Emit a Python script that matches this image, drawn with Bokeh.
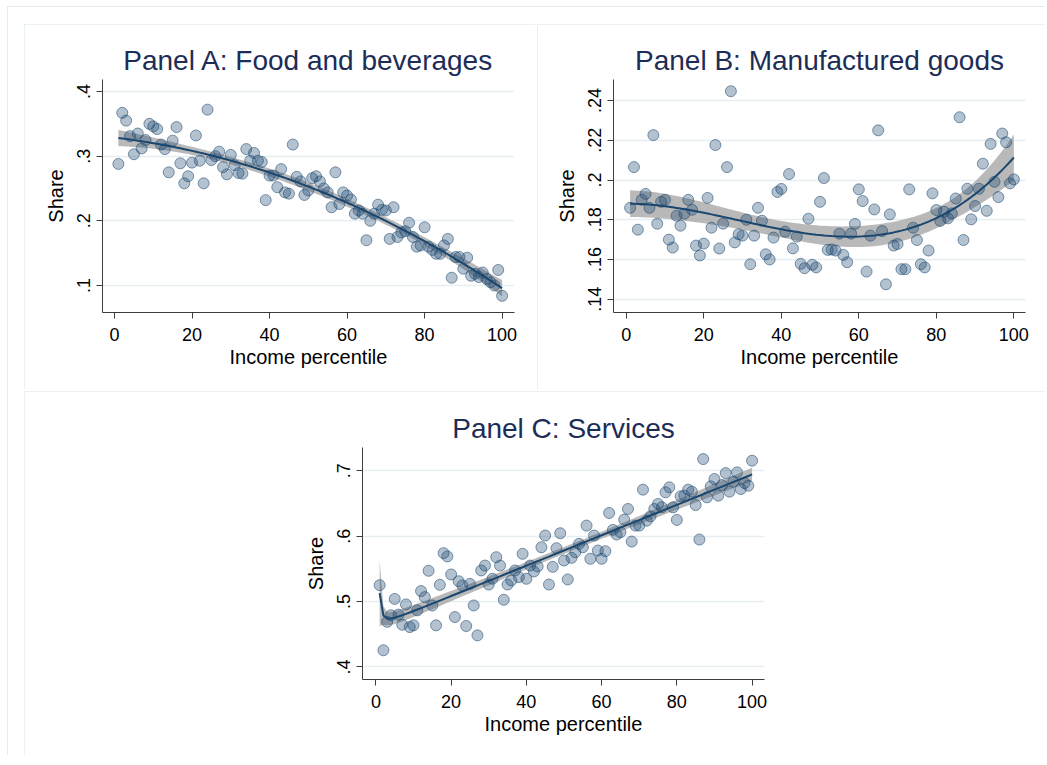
import numpy as np
from bokeh.plotting import figure
from bokeh.layouts import row, column, Spacer
from bokeh.models import FixedTicker, Range1d
from bokeh.embed import file_html
from bokeh.resources import INLINE

# ---------------- data ----------------
percentile = list(range(1, 101))

food = [0.288, 0.367, 0.355, 0.331, 0.303, 0.335, 0.312, 0.325, 0.350, 0.346,
        0.342, 0.318, 0.311, 0.275, 0.324, 0.345, 0.289, 0.258, 0.269, 0.290,
        0.332, 0.293, 0.258, 0.372, 0.294, 0.300, 0.307, 0.283, 0.272, 0.302,
        0.286, 0.274, 0.273, 0.311, 0.293, 0.305, 0.293, 0.291, 0.232, 0.270,
        0.270, 0.252, 0.280, 0.244, 0.242, 0.318, 0.268, 0.261, 0.240, 0.247,
        0.266, 0.269, 0.261, 0.250, 0.244, 0.221, 0.275, 0.226, 0.244, 0.239,
        0.233, 0.211, 0.216, 0.211, 0.170, 0.200, 0.211, 0.225, 0.217, 0.216,
        0.172, 0.221, 0.175, 0.182, 0.184, 0.197, 0.175, 0.160, 0.162, 0.190,
        0.160, 0.155, 0.149, 0.149, 0.162, 0.172, 0.112, 0.144, 0.144, 0.126,
        0.143, 0.115, 0.118, 0.113, 0.120, 0.110, 0.105, 0.100, 0.124, 0.084]

manuf = [0.186, 0.2065, 0.175, 0.190, 0.193, 0.186, 0.2226, 0.178, 0.189, 0.190,
         0.170, 0.166, 0.182, 0.177, 0.183, 0.190, 0.185, 0.167, 0.162, 0.168,
         0.191, 0.176, 0.2176, 0.1655, 0.178, 0.2065, 0.2447, 0.1686, 0.1727, 0.172,
         0.180, 0.1576, 0.172, 0.186, 0.1795, 0.1626, 0.160, 0.171, 0.194, 0.1955,
         0.174, 0.203, 0.1656, 0.1715, 0.1578, 0.1556, 0.1805, 0.1573, 0.156, 0.189,
         0.201, 0.1648, 0.165, 0.1645, 0.173, 0.1623, 0.1586, 0.173, 0.1779, 0.1953,
         0.1894, 0.1539, 0.172, 0.1852, 0.225, 0.1743, 0.1475, 0.1827, 0.167, 0.1678,
         0.1551, 0.1551, 0.1953, 0.176, 0.1698, 0.1576, 0.156, 0.1645, 0.1933, 0.1849,
         0.1794, 0.184, 0.1807, 0.1832, 0.1907, 0.2316, 0.1698, 0.1956, 0.1802, 0.1869,
         0.1956, 0.2082, 0.1845, 0.2182, 0.1991, 0.1914, 0.2234, 0.219, 0.1983, 0.2003]

services = [0.525, 0.4255, 0.469, 0.479, 0.504, 0.480, 0.4646, 0.4956, 0.461, 0.4636,
            0.4865, 0.516, 0.5068, 0.547, 0.494, 0.4636, 0.5256, 0.574, 0.569, 0.5414,
            0.4763, 0.531, 0.5246, 0.4626, 0.527, 0.494, 0.4483, 0.5475, 0.555, 0.526,
            0.5348, 0.5678, 0.555, 0.5027, 0.526, 0.5322, 0.5475, 0.5373, 0.5729, 0.5348,
            0.555, 0.546, 0.5536, 0.583, 0.6009, 0.526, 0.553, 0.5815, 0.6044, 0.5627,
            0.5338, 0.5668, 0.5754, 0.5882, 0.583, 0.6161, 0.5653, 0.6009, 0.578, 0.5653,
            0.577, 0.6354, 0.6095, 0.6024, 0.606, 0.6253, 0.6415, 0.5917, 0.6161, 0.6161,
            0.671, 0.6237, 0.6303, 0.6415, 0.6492, 0.6441, 0.667, 0.6746, 0.6441, 0.6248,
            0.6609, 0.6619, 0.671, 0.668, 0.6476, 0.5948, 0.7178, 0.6593, 0.6761, 0.6873,
            0.6619, 0.6781, 0.6964, 0.668, 0.6832, 0.6975, 0.672, 0.6812, 0.6771, 0.7153]

titles = ["Panel A: Food and beverages", "Panel B: Manufactured goods", "Panel C: Services"]
x_title = "Income percentile"
y_title = "Share"

x_ticks = [0, 20, 40, 60, 80, 100]
x_tick_labels = ["0", "20", "40", "60", "80", "100"]
food_ticks = [0.1, 0.2, 0.3, 0.4]
food_tick_labels = [".1", ".2", ".3", ".4"]
manuf_ticks = [0.14, 0.16, 0.18, 0.2, 0.22, 0.24]
manuf_tick_labels = [".14", ".16", ".18", ".2", ".22", ".24"]
serv_ticks = [0.4, 0.5, 0.6, 0.7]
serv_tick_labels = [".4", ".5", ".6", ".7"]

# ---------------- style ----------------
FONT = "Liberation Sans"
NAVY = "#1a476f"
TITLE_COLOR = "#1c2d57"
GRID = "#e6eef1"
BORDER = "#e3ecee"


def fit_band(x, y, basis, grid):
    x = np.asarray(x, float)
    y = np.asarray(y, float)
    X = np.column_stack([f(x) for f in basis])
    beta, *_ = np.linalg.lstsq(X, y, rcond=None)
    resid = y - X @ beta
    n, k = X.shape
    s2 = resid @ resid / (n - k)
    XtXi = np.linalg.inv(X.T @ X)
    G = np.column_stack([f(grid) for f in basis])
    yhat = G @ beta
    se = np.sqrt(s2 * np.einsum("ij,jk,ik->i", G, XtXi, G))
    t = 1.984
    return yhat, yhat - t * se, yhat + t * se


grid = np.linspace(1, 100, 100)
one = lambda v: np.ones_like(v)
basis_food = [one, lambda v: v / 100.0, lambda v: (v / 100.0) ** 2]
basis_manuf = [one, lambda v: (v / 100.0) ** 2, lambda v: (v / 100.0) ** 3]
basis_serv = [one, lambda v: v ** -2.0, lambda v: v / 100.0]


def make_panel(title, yvals, yticks, ylabels, basis, xr, yr, w, h, bl, br, bt, bb):
    p = figure(width=w, height=h, x_range=Range1d(*xr), y_range=Range1d(*yr),
               output_backend="svg", toolbar_location=None,
               min_border_left=bl, min_border_right=br,
               min_border_top=bt, min_border_bottom=bb)
    p.outline_line_color = None
    p.background_fill_color = "white"
    p.border_fill_color = "white"
    p.styles = {"outline": "1px solid " + BORDER, "outline-offset": "-1px"}

    p.title.text = title
    p.title.align = "center"
    p.title.text_font = FONT
    p.title.text_font_size = "28px"
    p.title.text_font_style = "normal"
    p.title.text_color = TITLE_COLOR
    p.title.standoff = 7

    for ax in (p.xaxis, p.yaxis):
        ax.axis_line_color = "#3c3c3c"
        ax.axis_line_width = 1
        ax.major_tick_line_color = "#3c3c3c"
        ax.major_tick_out = 6
        ax.major_tick_in = 0
        ax.minor_tick_out = 0
        ax.minor_tick_in = 0
        ax.major_label_text_font = FONT
        ax.major_label_text_font_size = "18px"
        ax.major_label_text_color = "black"
        ax.axis_label_text_font = FONT
        ax.axis_label_text_font_size = "20px"
        ax.axis_label_text_font_style = "normal"
        ax.axis_label_text_color = "black"

    p.xaxis.ticker = FixedTicker(ticks=x_ticks)
    p.xaxis.major_label_overrides = dict(zip(x_ticks, x_tick_labels))
    p.xaxis.axis_label = x_title
    p.xaxis.major_label_standoff = 9
    p.xaxis.axis_label_standoff = 2

    p.yaxis.ticker = FixedTicker(ticks=yticks)
    p.yaxis.major_label_overrides = dict(zip(yticks, ylabels))
    p.yaxis.major_label_orientation = "vertical"
    p.yaxis.axis_label = y_title
    p.yaxis.major_label_standoff = 6
    p.yaxis.axis_label_standoff = 8

    p.xgrid.visible = False
    p.ygrid.grid_line_color = GRID
    p.ygrid.grid_line_width = 1.5

    yhat, lo, hi = fit_band(percentile, yvals, basis, grid)
    p.varea(x=grid, y1=lo, y2=hi, fill_color="#a8a8a8", fill_alpha=0.8)
    p.scatter(percentile, yvals, size=11, marker="circle",
              fill_color=NAVY, fill_alpha=0.33,
              line_color=NAVY, line_alpha=0.55, line_width=1)
    p.line(grid, yhat, line_color=NAVY, line_width=2)
    return p


pA = make_panel(titles[0], food, food_ticks, food_tick_labels, basis_food,
                (-3.1, 103.2), (0.0582, 0.4186), 511, 365, 78, 21, 55, 77)
pB = make_panel(titles[1], manuf, manuf_ticks, manuf_tick_labels, basis_manuf,
                (-3.28, 103.0), (0.1333, 0.2506), 508, 365, 76, 20, 55, 77)
pC = make_panel(titles[2], services, serv_ticks, serv_tick_labels, basis_serv,
                (-3.56, 103.3), (0.3808, 0.7355), 1021, 364, 338, 281, 56, 76)

inner = column(row(pA, Spacer(width=2, height=365), pB),
               Spacer(width=1021, height=2),
               pC)
framed = column(Spacer(width=1038, height=18),
                row(Spacer(width=17, height=731), inner))
framed.styles = {"box-shadow": "inset 1px 1px 0 0 " + BORDER}
layout = column(Spacer(width=1045, height=6),
                row(Spacer(width=7, height=749), framed))

open("out.html", "w").write(file_html(layout, INLINE))
